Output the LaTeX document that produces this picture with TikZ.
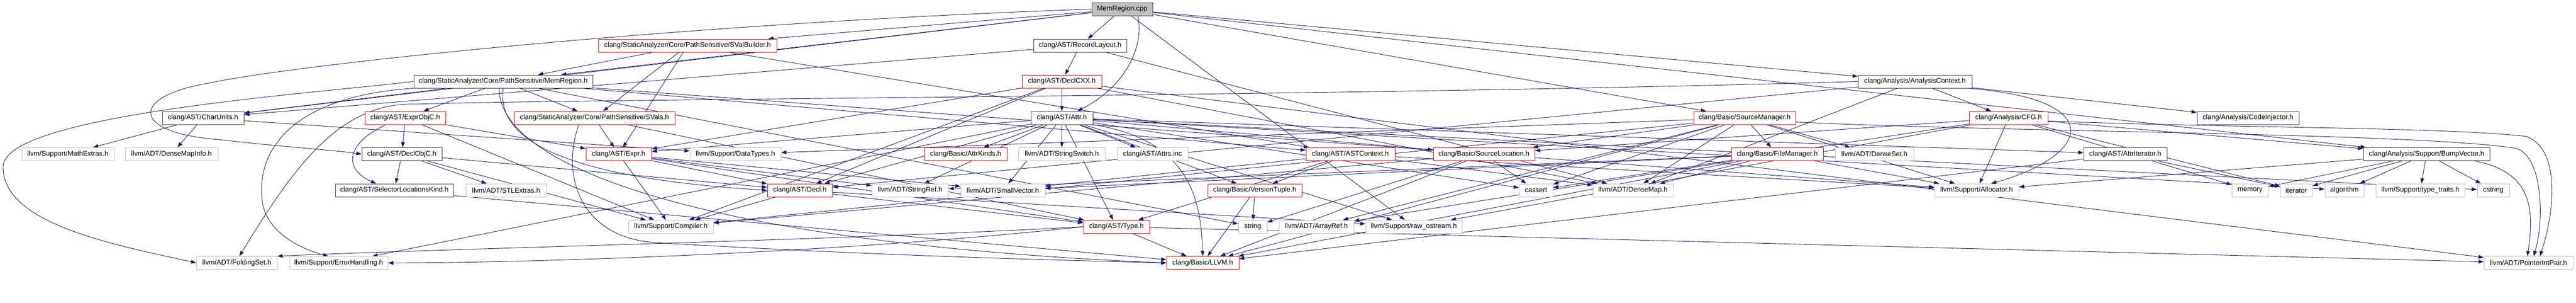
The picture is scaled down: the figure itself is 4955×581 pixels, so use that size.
\documentclass[tikz,border=0pt]{standalone}
\usepackage{fontspec}
\usepackage{tikz}
\usetikzlibrary{arrows.meta}
\newfontfamily\dotfont{Liberation Sans}
\definecolor{edgeblue}{RGB}{25,25,112}
\definecolor{cutred}{RGB}{255,0,0}
\definecolor{extgray}{RGB}{191,191,191}
\definecolor{docdark}{RGB}{64,64,64}
\definecolor{rootgray}{RGB}{191,191,191}
\pgfdeclarelayer{background}
\pgfsetlayers{background,main}

\begin{document}
\begin{tikzpicture}[x=1pt,y=-1pt,
    hdrbox/.style={draw, line width=1pt, fill=white, minimum height=25pt,
        inner xsep=2pt, inner ysep=0pt, font=\dotfont\fontsize{13.3}{16}\selectfont},
    rootbox/.style={hdrbox, draw=docdark, fill=rootgray},
    docbox/.style={hdrbox, draw=docdark},
    cutbox/.style={hdrbox, draw=cutred},
    extbox/.style={hdrbox, draw=extgray},
    incl/.style={draw=edgeblue, line width=0.9pt, -{Triangle[length=10pt,width=7pt]}}
]
    \useasboundingbox (0,0) rectangle (4955,581);

    % Source file
    \node[rootbox, minimum width=117] (cpp) at (2158.5,17.5) {MemRegion.cpp};

    % Headers drawn in full
    \foreach \nm/\xl/\xr/\yy/\lbl in {
        reclay/1988/2167/87.5/{clang/AST/RecordLayout.h},
        memh/796/1140/156.5/{clang/StaticAnalyzer/Core/PathSensitive/MemRegion.h},
        anactx/3574/3793/156.5/{clang/Analysis/AnalysisContext.h},
        charunits/312/469/226.5/{clang/AST/CharUnits.h},
        attrh/1983/2102/226.5/{clang/AST/Attr.h},
        codeinj/4226/4422/226.5/{clang/Analysis/CodeInjector.h},
        declobjc/696/850/296/{clang/AST/DeclObjC.h},
        attriter/4008/4168/296/{clang/AST/AttrIterator.h},
        bumpvec/4546/4789/296/{clang/Analysis/Support/BumpVector.h},
        selloc/645/872/365.5/{clang/AST/SelectorLocationsKind.h}%
    } {
        \node[docbox, minimum width={\xr-\xl}] (\nm) at ({(\xl+\xr)/2},\yy) {\lbl};
    }

    % Headers with a cut-off subgraph
    \foreach \nm/\xl/\xr/\yy/\lbl in {
        svalb/1151/1494/87.5/{clang/StaticAnalyzer/Core/PathSensitive/SValBuilder.h},
        declcxx/1966/2119/156.5/{clang/AST/DeclCXX.h},
        exprobjc/702/857/226.5/{clang/AST/ExprObjC.h},
        svals/989/1298/226.5/{clang/StaticAnalyzer/Core/PathSensitive/SVals.h},
        srcmgr/3258/3454/226.5/{clang/Basic/SourceManager.h},
        cfg/3788/3939/226.5/{clang/Analysis/CFG.h},
        expr/1127/1253/296/{clang/AST/Expr.h},
        attrkinds/1778/1937/296/{clang/Basic/AttrKinds.h},
        astctx/2512/2683/296/{clang/AST/ASTContext.h},
        srcloc/2757/2952/296/{clang/Basic/SourceLocation.h},
        fileman/3330/3507/296/{clang/Basic/FileManager.h},
        decl/1476/1601/365.5/{clang/AST/Decl.h},
        vertuple/2323/2504/365.5/{clang/Basic/VersionTuple.h},
        type/2084/2211/435.5/{clang/AST/Type.h},
        llvmh/2244/2383/505/{clang/Basic/LLVM.h}%
    } {
        \node[cutbox, minimum width={\xr-\xl}] (\nm) at ({(\xl+\xr)/2},\yy) {\lbl};
    }

    % External headers
    \foreach \nm/\xl/\xr/\yy/\lbl in {
        mathext/42/219/296/{llvm/Support/MathExtras.h},
        densemapinfo/241/419/296/{llvm/ADT/DenseMapInfo.h},
        datatypes/1327/1502/296/{llvm/Support/DataTypes.h},
        strswitch/1959/2126/296/{llvm/ADT/StringSwitch.h},
        attrsinc/2149/2285/296/{clang/AST/Attrs.inc},
        denseset/3530/3681/296/{llvm/ADT/DenseSet.h},
        stlext/896/1051/365.5/{llvm/ADT/STLExtras.h},
        strref/1677/1824/365.5/{llvm/ADT/StringRef.h},
        smallvec/1848/2010/365.5/{llvm/ADT/SmallVector.h},
        cassert/2922/2987/365.5/{cassert},
        densemap/3064/3218/365.5/{llvm/ADT/DenseMap.h},
        allocator/3721/3883/365.5/{llvm/Support/Allocator.h},
        memory/4293/4363/365.5/{memory},
        iterator/4386/4448/365.5/{iterator},
        algorithm/4472/4547/365.5/{algorithm},
        typetraits/4570/4741/365.5/{llvm/Support/type\_traits.h},
        cstring/4765/4827/365.5/{cstring},
        compiler/1209/1372/435.5/{llvm/Support/Compiler.h},
        string/2382/2437/435.5/{string},
        arrayref/2460/2604/435.5/{llvm/ADT/ArrayRef.h},
        rawos/2627/2812/435.5/{llvm/Support/raw\_ostream.h},
        foldingset/378/533/505/{llvm/ADT/FoldingSet.h},
        errhandling/557/746/505/{llvm/Support/ErrorHandling.h},
        ptrintpair/4778/4949/505/{llvm/ADT/PointerIntPair.h}%
    } {
        \node[extbox, minimum width={\xr-\xl}] (\nm) at ({(\xl+\xr)/2},\yy) {\lbl};
    }

    \begin{pgfonlayer}{background}
    % Include edges, straight
    \foreach \src/\dsts in {
        cpp/{svalb,reclay,memh,charunits,anactx,srcmgr,bumpvec,rawos},
        svalb/{memh,svals,expr,astctx},
        reclay/{declcxx,charunits,densemap},
        memh/{charunits,exprobjc,svals,astctx,allocator,string},
        declcxx/{attrh,decl,expr,densemap,ptrintpair,compiler},
        anactx/{decl,cfg,codeinj,densemap},
        charunits/{mathext,densemapinfo,datatypes},
        exprobjc/{declobjc,expr,compiler},
        svals/{expr,type},
        attrh/{attriter,decl,expr,type,attrkinds,srcloc,vertuple,smallvec,strref,strswitch,errhandling,rawos,cassert,cstring,algorithm,attrsinc},
        srcmgr/{fileman,denseset,srcloc,llvmh,allocator,compiler,datatypes,densemap,cassert,arrayref},
        cfg/{bumpvec,srcloc,allocator,rawos,cassert,iterator,memory},
        declobjc/{decl,selloc,stlext,compiler},
        expr/{decl,type,smallvec,strref,compiler},
        astctx/{type,vertuple,densemap,smallvec,allocator},
        srcloc/{llvmh,compiler,cassert,string},
        fileman/{llvmh,densemap,smallvec,strref,allocator,arrayref},
        attriter/{llvmh,iterator},
        bumpvec/{allocator,typetraits,algorithm,cstring,iterator,memory},
        vertuple/{llvmh,string},
        decl/{type,compiler,rawos},
        type/{llvmh,ptrintpair},
        selloc/{llvmh}%
    } {
        \foreach \dst in \dsts {
            \draw[incl] (\src) -- (\dst);
        }
    }

    % Include edges, routed round other boxes
    \draw[incl] (cpp.west) .. controls (1300,45) and (560,125) .. (400,160)
        .. controls (250,185) and (250,255) .. (420,268)
        .. controls (540,282) and (640,288) .. (declobjc.west);
    \draw[incl] ([xshift=30pt]cpp.south) .. controls (2200,80) and (2175,160) .. ([xshift=30pt]attrh.north);
    \draw[incl] (memh.west) .. controls (600,180) and (8,220) .. (6,320)
        .. controls (4,430) and (220,470) .. (foldingset.west);
    \draw[incl] (memh.south) .. controls (955,260) and (1060,340) .. (decl.west);
    \draw[incl] ([xshift=-8pt]memh.south) .. controls (960,330) and (1400,470) .. (llvmh.west);
    \draw[incl] (memh.south west) .. controls (560,185) and (490,290) .. (505,390)
        .. controls (515,450) and (585,480) .. ([xshift=-20pt]errhandling.north);
    \draw[incl] ([xshift=-37pt]exprobjc.south) .. controls (665,275) and (660,325) .. ([xshift=-35pt]selloc.north);
    \draw[incl] ([xshift=-30pt]svals.south) .. controls (1080,330) and (1110,455) .. (1260,466)
        .. controls (1700,492) and (2050,500) .. (llvmh.west);
    \draw[incl] (attrh.south east) .. controls (2300,270) and (2310,400) .. (llvmh.north);
    \draw[incl] (anactx.west) .. controls (2600,185) and (1100,190) .. (800,200)
        .. controls (650,195) and (560,330) .. ([xshift=5pt]foldingset.north);
    \draw[incl] ([xshift=-10pt]anactx.south east) .. controls (4060,190) and (4020,300) .. ([xshift=28pt]allocator.north);
    \draw[incl] ([yshift=-6pt]cfg.east) .. controls (4300,246) and (4700,244) .. (4860,262)
        .. controls (4930,290) and (4910,420) .. ([xshift=22pt]ptrintpair.north);
    \draw[incl] ([yshift=-8pt]srcmgr.east) .. controls (3900,255) and (4650,255) .. (4840,285)
        .. controls (4890,300) and (4895,420) .. ([xshift=10pt]ptrintpair.north);
    \draw[incl] ([xshift=-30pt]bumpvec.south east) .. controls (4870,330) and (4875,400) .. ([xshift=-2pt]ptrintpair.north);
    \draw[incl] (type.west) .. controls (1600,462) and (900,476) .. (foldingset.north east);
    \draw[incl] (type.west) .. controls (1600,488) and (1000,505) .. (errhandling.east);
    \end{pgfonlayer}
\end{tikzpicture}
\end{document}
